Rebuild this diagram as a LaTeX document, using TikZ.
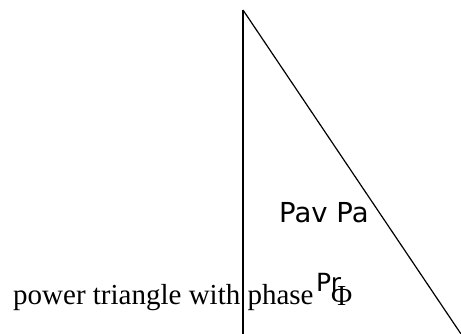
\documentclass[tikz,border=0pt]{standalone}
\usepackage{fontspec}
\setmainfont{Liberation Serif}
\newfontfamily\labelfont{DejaVu Sans}
\usepackage{tikz}
\usetikzlibrary{positioning, calc}

\begin{document}
\begin{tikzpicture}[
    x=1pt, y=1pt,
    side/.style={line width=1.2pt, black},
    powerlabel/.style={inner sep=0pt, anchor=base west, font=\labelfont\fontsize{27.5}{32}\selectfont},
    smalllabel/.style={inner sep=0pt, anchor=base west, font=\labelfont\fontsize{25}{30}\selectfont},
    serifcaption/.style={inner sep=0pt, anchor=base west, font=\fontsize{29}{34}\selectfont},
]
  \useasboundingbox (0,0) rectangle (461,334);

  % corners of the triangle
  \coordinate (apex) at (243,324);
  \coordinate (foot) at (243,0);
  \coordinate (tip) at (461,0);

  % sides
  \draw[side] (apex) -- (foot);
  \draw[side] (apex) -- (tip);

  % labels
  \node[powerlabel] (pav) at (279,111) {Pav Pa};
  \node[serifcaption] (caption) at (13,29) {power triangle with phase};
  \node[smalllabel] (pr) at (316,42) {Pr};
  \node[serifcaption] (phi) at (331,28) {Φ};
\end{tikzpicture}
\end{document}
